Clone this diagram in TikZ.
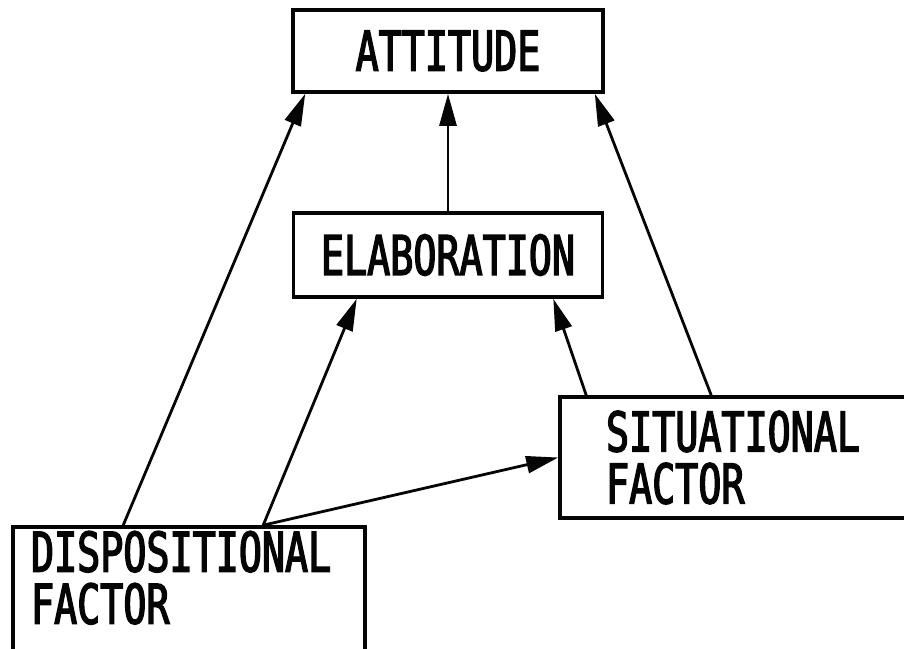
\documentclass[tikz,border=0pt]{standalone}
\usepackage{fontspec}
\newfontfamily\plotfont{DejaVu Sans Mono}[FakeStretch=0.7, FakeBold=2.5]
\usetikzlibrary{arrows.meta, positioning}
\definecolor{mainBlack}{gray}{0.02}

\begin{document}
\begin{tikzpicture}[x=0.5pt, y=-0.5pt, >={Triangle[length=16pt, width=8.5pt]},
    box/.style={draw=mainBlack, line width=1.8pt, fill=white, inner sep=0pt,
        font=\plotfont\fontsize{27.4}{26}\selectfont, text=mainBlack},
    link/.style={->, line width=1.4pt, mainBlack}]
    \useasboundingbox (0,0) rectangle (904,648);
    \clip (0,0) rectangle (904,648);

    % Boxes
    \node[box, minimum width=155pt, minimum height=41pt] (attitude) at (448,51) {ATTITUDE};
    \node[box, minimum width=154.5pt, minimum height=42pt] (elaboration) at (448,255) {ELABORATION};
    \node[box, minimum width=173pt, minimum height=60.5pt, align=left] (situational) at (733,457.5) {SITUATIONAL\\FACTOR};
    \node[box, minimum width=176pt, minimum height=62.5pt] (dispositional) at (189,589.5) {};
    \node[box, draw=none, fill=none, align=left, anchor=north west] (dispText)
        at ([xshift=9pt, yshift=-2pt]dispositional.north west) {DISPOSITIONAL\\FACTOR};

    % Arrows
    \draw[link] ([xshift=56pt]dispositional.north west) -- ([xshift=7pt]attitude.south west);
    \draw[link] ([xshift=126pt]dispositional.north west) coordinate (dispFoot) -- ([xshift=32.5pt]elaboration.south west);
    \draw[link] (dispFoot) -- (situational.west);
    \draw[link] (elaboration.north) -- (attitude.south);
    \draw[link] ([xshift=14pt]situational.north west) -- ([xshift=-25.5pt]elaboration.south east);
    \draw[link] ([xshift=76.5pt]situational.north west) -- ([xshift=-5pt]attitude.south east);
\end{tikzpicture}
\end{document}
